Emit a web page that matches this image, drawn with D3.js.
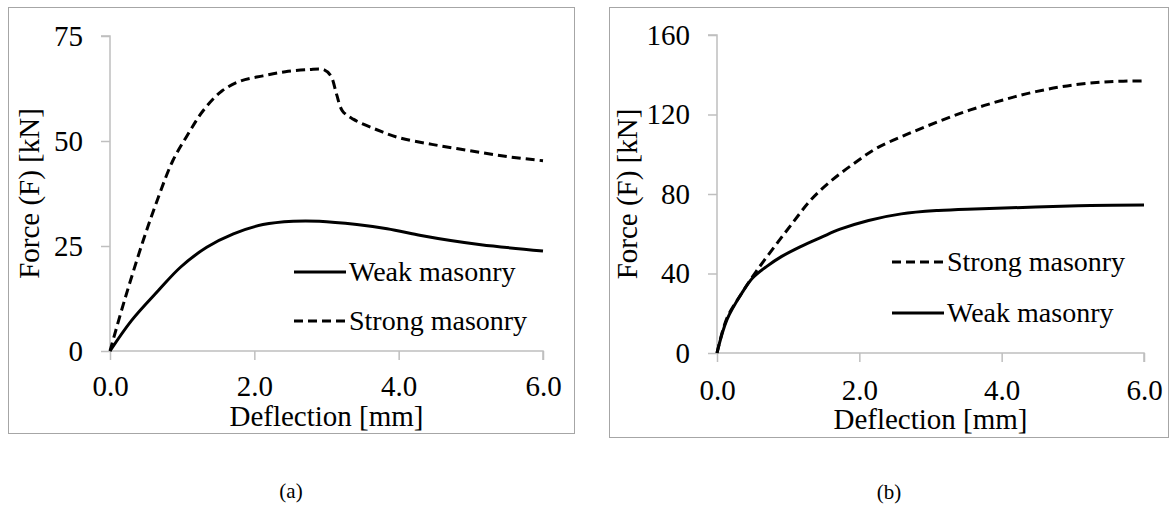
<!DOCTYPE html>
<html>
<head>
<meta charset="utf-8">
<script src="https://cdn.jsdelivr.net/npm/d3@7"></script>
<style>
  body { margin: 0; background: #fff; }
  svg text { font-family: "Liberation Serif", "Times New Roman", serif; fill: #000; }
</style>
</head>
<body>
<svg id="chart" width="1170" height="509"></svg>
<script>
// Data (deflection in mm, force in kN)
const weakA_x   = [0, 0.30, 0.67, 0.98, 1.34, 1.71, 2.12, 2.54, 2.90, 3.42, 3.84, 4.31, 4.72, 5.14, 6.0];
const weakA_y   = [0, 7.3, 14.4, 20.0, 24.7, 27.9, 30.1, 30.9, 30.9, 30.1, 29.1, 27.5, 26.3, 25.3, 23.8];
const strongA_x = [0, 0.20, 0.46, 0.67, 0.87, 1.08, 1.29, 1.55, 1.81, 2.12, 2.43, 2.75, 2.96, 3.06, 3.14, 3.22, 3.37, 3.68, 4.0, 4.46, 4.98, 5.5, 6.0];
const strongA_y = [0, 12.0, 26.3, 36.6, 45.3, 51.6, 57.2, 61.9, 64.3, 65.5, 66.5, 67.0, 67.0, 65.5, 61.1, 57.2, 55.2, 52.8, 50.8, 49.2, 47.7, 46.3, 45.3];

const weakB_x   = [0, 0.14, 0.35, 0.50, 0.70, 0.91, 1.16, 1.47, 1.73, 2.13, 2.59, 3.11, 3.62, 4.48, 5.25, 6.0];
const weakB_y   = [0, 16.8, 30.2, 37.7, 43.6, 48.6, 53.3, 58.3, 62.3, 66.7, 70.0, 71.7, 72.5, 73.4, 74.2, 74.5];
const strongB_x = [0, 0.14, 0.35, 0.55, 0.81, 1.06, 1.32, 1.62, 1.93, 2.24, 2.65, 3.11, 3.56, 4.02, 4.48, 4.99, 5.51, 6.0];
const strongB_y = [0, 17.6, 30.2, 41.0, 53.6, 65.3, 77.1, 87.1, 95.5, 103, 109.7, 116.4, 122.3, 127.3, 131.5, 134.8, 136.5, 136.9];

const xTicks  = [0, 2, 4, 6];
const yTicksA = [0, 25, 50, 75];
const yTicksB = [0, 40, 80, 120, 160];

const svg = d3.select("#chart");
const axisColor = "#bfbfbf";
const serif = "Liberation Serif, Times New Roman, serif";
const dash = "9,5";

function zip(xs, ys) { return xs.map((x, i) => ({ x: x, y: ys[i] })); }

function drawPanel(cfg) {
  const g = svg.append("g");

  // outer frame
  g.append("rect")
    .attr("x", cfg.frame[0] + 0.5).attr("y", cfg.frame[1] + 0.5)
    .attr("width", cfg.frame[2] - cfg.frame[0]).attr("height", cfg.frame[3] - cfg.frame[1])
    .attr("fill", "none").attr("stroke", "#a6a6a6").attr("stroke-width", 1);

  const x = d3.scaleLinear().domain([0, 6]).range([cfg.left, cfg.right]);
  const y = d3.scaleLinear().domain([0, cfg.yMax]).range([cfg.bottom, cfg.top]);

  // y axis
  const ya = g.append("g")
    .attr("transform", `translate(${cfg.left},0)`)
    .call(d3.axisLeft(y).tickValues(cfg.yTicks).tickSize(9).tickPadding(18).tickFormat(d3.format("d")))
    .attr("font-family", serif).attr("font-size", 29);
  ya.select(".domain").attr("stroke", axisColor).attr("stroke-width", 1.5)
    .attr("d", `M-9,${cfg.top}H0V${cfg.bottom}`);
  ya.selectAll(".tick line").attr("stroke", axisColor).attr("stroke-width", 1.5);
  ya.selectAll(".tick text").attr("fill", "#000");

  // x axis
  const xa = g.append("g")
    .attr("transform", `translate(0,${cfg.bottom})`)
    .call(d3.axisBottom(x).tickValues(xTicks).tickSize(9).tickPadding(cfg.xPad).tickFormat(d3.format(".1f")))
    .attr("font-family", serif).attr("font-size", 29);
  xa.select(".domain").attr("stroke", axisColor).attr("stroke-width", 1.5)
    .attr("d", `M${cfg.left},0H${cfg.right}V9`);
  xa.selectAll(".tick line").attr("stroke", axisColor).attr("stroke-width", 1.5);
  xa.selectAll(".tick text").attr("fill", "#000");

  // axis titles
  g.append("text")
    .attr("x", (cfg.left + cfg.right) / 2).attr("y", cfg.xTitleY)
    .attr("text-anchor", "middle").attr("font-size", 29)
    .text("Deflection [mm]");
  g.append("text")
    .attr("transform", `translate(${cfg.yTitleX},${(cfg.top + cfg.bottom) / 2}) rotate(-90)`)
    .attr("text-anchor", "middle").attr("dominant-baseline", "central").attr("font-size", 29)
    .text("Force (F) [kN]");

  const line = d3.line().x(d => x(d.x)).y(d => y(d.y)).curve(d3.curveCatmullRom.alpha(0.5));

  g.append("path").datum(zip(cfg.strongX, cfg.strongY))
    .attr("d", line).attr("fill", "none").attr("stroke", "#000")
    .attr("stroke-width", 3).attr("stroke-dasharray", dash);
  g.append("path").datum(zip(cfg.weakX, cfg.weakY))
    .attr("d", line).attr("fill", "none").attr("stroke", "#000")
    .attr("stroke-width", 3);

  // legend
  cfg.legend.forEach(item => {
    g.append("line")
      .attr("x1", cfg.legendX).attr("x2", cfg.legendX + 52)
      .attr("y1", item.y).attr("y2", item.y)
      .attr("stroke", "#000").attr("stroke-width", 3)
      .attr("stroke-dasharray", item.dashed ? dash : null);
    g.append("text")
      .attr("x", cfg.legendX + 55).attr("y", item.y + 9)
      .attr("font-size", 28)
      .text(item.label);
  });

  // caption
  svg.append("text")
    .attr("x", cfg.caption[0]).attr("y", cfg.caption[1])
    .attr("text-anchor", "middle").attr("font-size", 21)
    .text(cfg.caption[2]);
}

drawPanel({
  frame: [8, 7, 574, 433],
  left: 110, right: 543, top: 36, bottom: 351,
  yMax: 75, yTicks: yTicksA, xPad: 15,
  xTitleY: 426, yTitleX: 29,
  weakX: weakA_x, weakY: weakA_y, strongX: strongA_x, strongY: strongA_y,
  legendX: 294,
  legend: [
    { label: "Weak masonry", y: 272, dashed: false },
    { label: "Strong masonry", y: 321, dashed: true }
  ],
  caption: [291, 498, "(a)"]
});

drawPanel({
  frame: [609, 7, 1168, 437],
  left: 717, right: 1144, top: 35, bottom: 353,
  yMax: 160, yTicks: yTicksB, xPad: 17,
  xTitleY: 429, yTitleX: 627,
  weakX: weakB_x, weakY: weakB_y, strongX: strongB_x, strongY: strongB_y,
  legendX: 892,
  legend: [
    { label: "Strong masonry", y: 262, dashed: true },
    { label: "Weak masonry", y: 313, dashed: false }
  ],
  caption: [889, 499, "(b)"]
});
</script>
</body>
</html>
